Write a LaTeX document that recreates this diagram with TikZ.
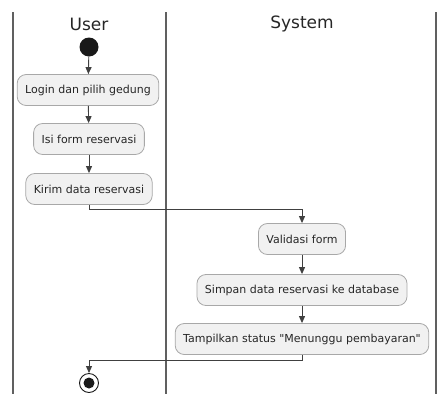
\documentclass[tikz,border=0pt]{standalone}
\usepackage{fontspec}
\setmainfont{DejaVu Sans}[Ligatures=TeXOff]
\usetikzlibrary{arrows.meta}
\definecolor{boxfill}{HTML}{F1F1F1}
\definecolor{boxline}{HTML}{A8A8A8}
\definecolor{laneline}{HTML}{606060}
\definecolor{flow}{HTML}{404040}
\begin{document}
\begin{tikzpicture}[x=1pt,y=-1pt,
  act/.style={draw=boxline,fill=boxfill,rounded corners=9pt,line width=0.8pt,
    minimum height=31pt,inner xsep=8pt,font=\fontsize{11}{13}\selectfont,text=black!85},
  lanetitle/.style={font=\fontsize{17}{20}\selectfont,text=black!85},
  lane/.style={draw=laneline,line width=1.3pt},
  flowline/.style={draw=flow,line width=0.9pt,-{Triangle[length=7pt,width=6pt]}}]
\useasboundingbox (0,0) rectangle (438,394);
% swimlane lines
\coordinate (l0t) at (13,12); \coordinate (l0b) at (13,394);
\coordinate (l1t) at (166,12); \coordinate (l1b) at (166,394);
\coordinate (l2t) at (436,12); \coordinate (l2b) at (436,394);
\draw[lane] (l0t) -- (l0b);
\draw[lane] (l1t) -- (l1b);
\draw[lane] (l2t) -- (l2b);
\node[lanetitle] (tuser) at (89,24) {User};
\node[lanetitle] (tsys) at (302,24) {System};
% nodes
\node[circle,fill=black!90,minimum size=19pt,inner sep=0] (start) at (89,47) {};
\node[act] (login) at (88,90) {Login dan pilih gedung};
\node[act] (isi) at (89,139) {Isi form reservasi};
\node[act] (kirim) at (89,189) {Kirim data reservasi};
\node[act] (valid) at (302,239) {Validasi form};
\node[act] (simpan) at (302,290) {Simpan data reservasi ke database};
\node[act] (tampil) at (302,339) {Tampilkan status "Menunggu pembayaran"};
\node[circle,draw=black!90,line width=0.9pt,minimum size=19pt,inner sep=0] (end) at (89,383) {};
\node[circle,fill=black!90,minimum size=11pt,inner sep=0] (enddot) at (89,383) {};
% connectors
\coordinate (k1) at (89,209);
\coordinate (k2) at (302,209);
\coordinate (t1) at (302,360);
\coordinate (t2) at (89,360);
\draw[flowline] (start) -- (login);
\draw[flowline] (login) -- (isi);
\draw[flowline] (isi) -- (kirim);
\draw[flowline] (kirim.south) -- (k1) -- (k2) -- (valid.north);
\draw[flowline] (valid) -- (simpan);
\draw[flowline] (simpan) -- (tampil);
\draw[flowline] (tampil.south) -- (t1) -- (t2) -- (end.north);
\end{tikzpicture}
\end{document}
